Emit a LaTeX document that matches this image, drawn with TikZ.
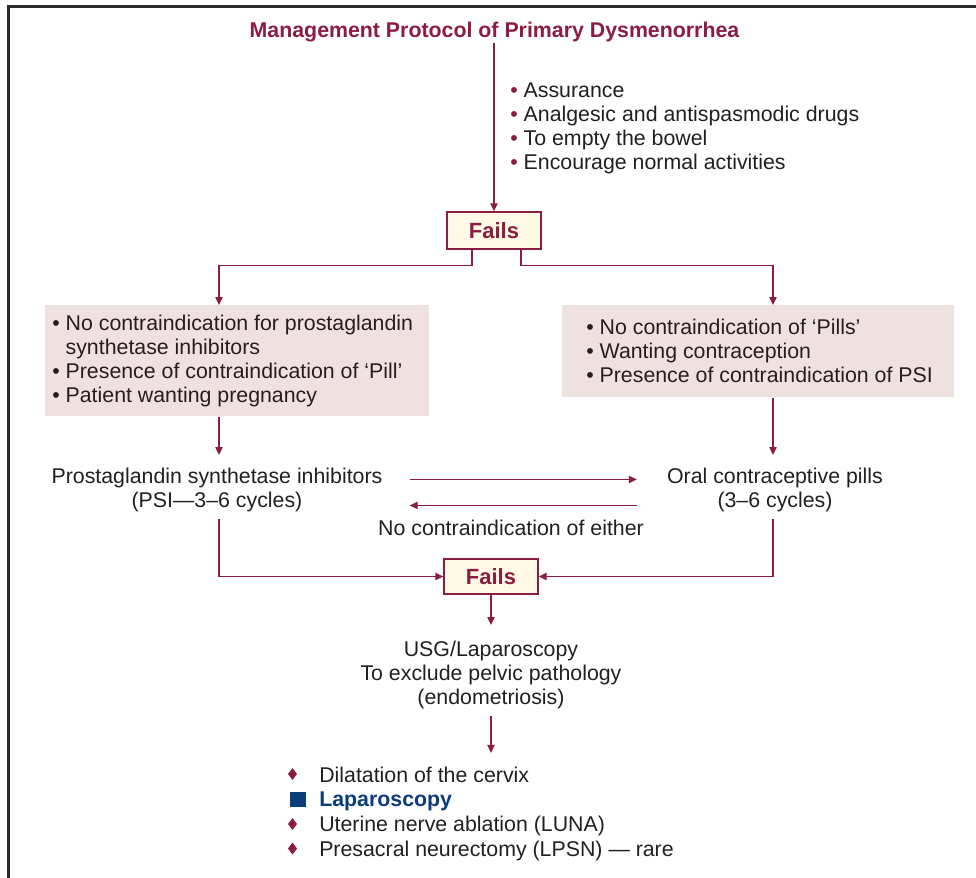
\documentclass[tikz,border=0pt]{standalone}
\usepackage{fontspec}
\setmainfont{Liberation Sans}
\usetikzlibrary{arrows.meta,calc}
\definecolor{mar}{HTML}{8B1D3F}
\definecolor{tgray}{HTML}{231F20}
\definecolor{pinkf}{HTML}{F0E1E1}
\definecolor{cream}{HTML}{FFF9E6}
\definecolor{lapblue}{HTML}{0B3D7C}
\definecolor{framec}{HTML}{2B2B2B}
\begin{document}
\begin{tikzpicture}[x=0.75pt,y=-0.75pt,
  txt/.style={font=\fontsize{16}{18}\selectfont, text=tgray, inner sep=0pt, align=left},
  ctxt/.style={txt, align=center},
  arr/.style={draw=mar, line width=1pt, -{Triangle[length=6pt,width=5.5pt]}},
  failbox/.style={draw=mar, line width=1.1pt, fill=cream, minimum width=70.5pt, inner sep=0pt,
    font=\fontsize{16.5}{18}\selectfont\bfseries, text=mar},
  pinkbox/.style={fill=pinkf, draw=none, inner sep=0pt, anchor=north west}
]
\useasboundingbox (0,0) rectangle (976,878);
% frame
\draw[line width=2.25pt, framec] (976,6) -- (8.5,6) -- (8.5,878);

% title
\node[font=\fontsize{16}{18}\selectfont\bfseries, text=mar, anchor=north, inner sep=0pt] (title) at (494.5,22) {Management Protocol of Primary Dysmenorrhea};

% first list
\node[txt, anchor=north west] (list1) at (510,83) {{\color{mar}•} Assurance\\{\color{mar}•} Analgesic and antispasmodic drugs\\{\color{mar}•} To empty the bowel\\{\color{mar}•} Encourage normal activities};

% fails 1
\node[failbox, minimum height=27.75pt] (f1) at (494,230.5) {Fails};

% pink boxes
\node[pinkbox, minimum width=288pt, minimum height=83.25pt] (lb) at (45,305) {};
\node[pinkbox, minimum width=294pt, minimum height=69pt] (rb) at (562,305) {};
\node[txt, anchor=north west] (lbt) at (52,315) {• No contraindication for prostaglandin\\\phantom{• }synthetase inhibitors\\• Presence of contraindication of ‘Pill’\\• Patient wanting pregnancy};
\node[txt, anchor=north west] (rbt) at (586,319) {• No contraindication of ‘Pills’\\• Wanting contraception\\• Presence of contraindication of PSI};

% treatments
\node[ctxt, anchor=north] (psi) at (217,468) {Prostaglandin synthetase inhibitors\\(PSI—3–6 cycles)};
\node[ctxt, anchor=north] (ocp) at (775,468) {Oral contraceptive pills\\(3–6 cycles)};
\node[ctxt, anchor=north] (either) at (511,520) {No contraindication of either};

% fails 2
\node[failbox, minimum height=26.25pt] (f2) at (491,576.5) {Fails};

% usg
\node[ctxt, anchor=north] (usg) at (491,641) {USG/Laparoscopy\\To exclude pelvic pathology\\(endometriosis)};

% final list
\node[txt, anchor=north west, font=\fontsize{16}{18.5}\selectfont] (list2) at (319,766.5) {Dilatation of the cervix\\{\color{lapblue}\bfseries Laparoscopy}\\Uterine nerve ablation (LUNA)\\Presacral neurectomy (LPSN) — rare};
\fill[mar] (292.5,768) -- (297,774) -- (292.5,780) -- (288,774) -- cycle;
\fill[lapblue] (290,792) rectangle (305.5,807);
\fill[mar] (292.5,818) -- (297,824) -- (292.5,830) -- (288,824) -- cycle;
\fill[mar] (292.5,842.5) -- (297,848.5) -- (292.5,854.5) -- (288,848.5) -- cycle;

% connectors
\draw[arr] (f1.north |- title.south) -- (f1.north);
\draw[arr] ($(f1.south)+(-22,0)$) -- ($(f1.south)+(-22,16)$) -| ($(lb.north west)+(174,0)$);
\draw[arr] ($(f1.south)+(27,0)$) -- ($(f1.south)+(27,16)$) -| ($(rb.north west)+(211,0)$);
\draw[arr] ($(lb.south west)+(174,0)$) -- ($(psi.north)+(2,-13)$);
\draw[arr] ($(rb.south west)+(211,0)$) -- ($(ocp.north)+(-2,-13)$);
\draw[arr] ($(psi.east)+(27,-10.75)$) -- ($(ocp.west)+(-30,-10.75)$);
\draw[arr] ($(ocp.west)+(-30,15.25)$) -- ($(psi.east)+(27,15.25)$);
\draw[arr] ($(psi.south)+(2,6.5)$) |- (f2.west);
\draw[arr] ($(ocp.south)+(-2,6.5)$) |- (f2.east);
\draw[arr] (f2.south) -- ($(usg.north)+(0,-16)$);
\draw[arr] ($(usg.south)+(0,6.5)$) -- ($(usg.south)+(0,43.5)$);
\end{tikzpicture}
\end{document}
